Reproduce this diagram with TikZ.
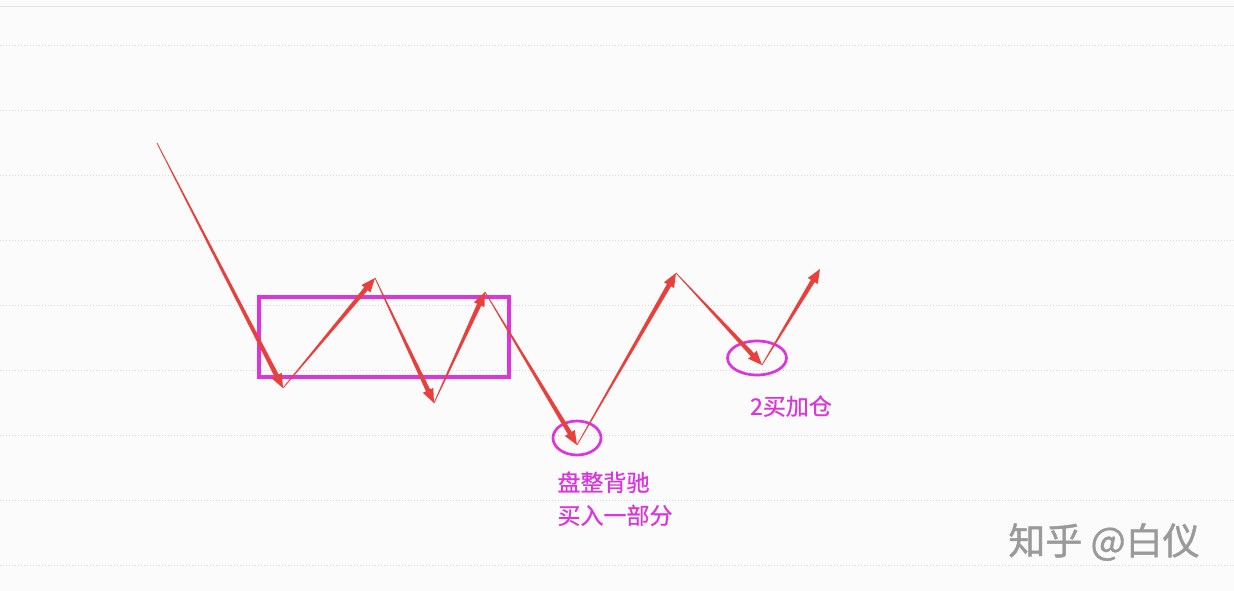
\documentclass[tikz,border=0pt]{standalone}
\usepackage{fontspec}
\usepackage{xcolor}
\usepackage{tikz}
\usetikzlibrary{calc, positioning, shapes.geometric}
\newfontfamily\cjkfont{Noto Sans CJK SC}[FakeBold=0.7]
\newfontfamily\stampfont{Noto Sans CJK SC}[FakeBold=1.2]
\definecolor{trendred}{HTML}{E8403C}
\definecolor{markmagenta}{HTML}{DD35DD}
\definecolor{gridgray}{HTML}{D9D9D9}
\definecolor{paperwhite}{HTML}{FBFBFB}
\definecolor{stampgray}{HTML}{9A9A9A}

\begin{document}
\begin{tikzpicture}[x=1pt, y=-1pt,
    gridline/.style={gridgray, line width=0.9pt, dash pattern=on 1pt off 2pt},
    zone/.style={rectangle, draw=markmagenta, line width=3.4pt, inner sep=0pt},
    ring/.style={ellipse, draw=markmagenta, line width=2.7pt, inner sep=0pt, minimum height=34pt},
    tag/.style={text=markmagenta, inner sep=0pt, align=left, font=\cjkfont\fontsize{23}{33}\selectfont}]

    \fill [paperwhite] (0,0) rectangle (1234,591);
    \useasboundingbox (0,0) rectangle (1234,591);

    \draw [gridgray!70, line width=0.8pt] (0,6) -- (1234,6);
    \foreach \y in {45,110,...,565}
      \draw [gridline] (0,\y) -- (1234,\y);

    \coordinate (p0) at (157,143);
    \coordinate (p1) at (283,388);
    \coordinate (p2) at (375,278);
    \coordinate (p3) at (434,403);
    \coordinate (p4) at (485,292);
    \coordinate (p5) at (577,445);
    \coordinate (p6) at (676,273);
    \coordinate (p7) at (762,365);
    \coordinate (p8) at (820,269);

    \node (range) [zone, minimum width=250pt, minimum height=80pt] at (384,337) {};
    \node (ring1) [ring, minimum width=48pt] at (577,438) {};
    \node (ring2) [ring, minimum width=59pt] at (757,358) {};

    \foreach \a/\b in {p0/p1, p1/p2, p2/p3, p3/p4, p4/p5, p5/p6, p6/p7, p7/p8} {
      \coordinate (neck) at ($(\b)!14pt!(\a)$);
      \fill [trendred] ($(\a)!0.4pt!90:(\b)$) -- ($(neck)!2.3pt!90:(\b)$) -- ($(neck)!5.8pt!90:(\b)$)
        -- (\b) -- ($(neck)!5.8pt!-90:(\b)$) -- ($(neck)!2.3pt!-90:(\b)$) -- ($(\a)!0.4pt!-90:(\b)$) -- cycle;
    }

    \node (divtag) [tag, below=15pt of ring1, xshift=38pt] {盘整背驰\\买入一部分};
    \node (addtag) [tag, below=19pt of ring2, xshift=34pt] {2买加仓};

    \node (stamp) [text=stampgray, font=\stampfont\fontsize{37}{37}\selectfont] at (1104,542) {知乎 @白仪};
\end{tikzpicture}
\end{document}
